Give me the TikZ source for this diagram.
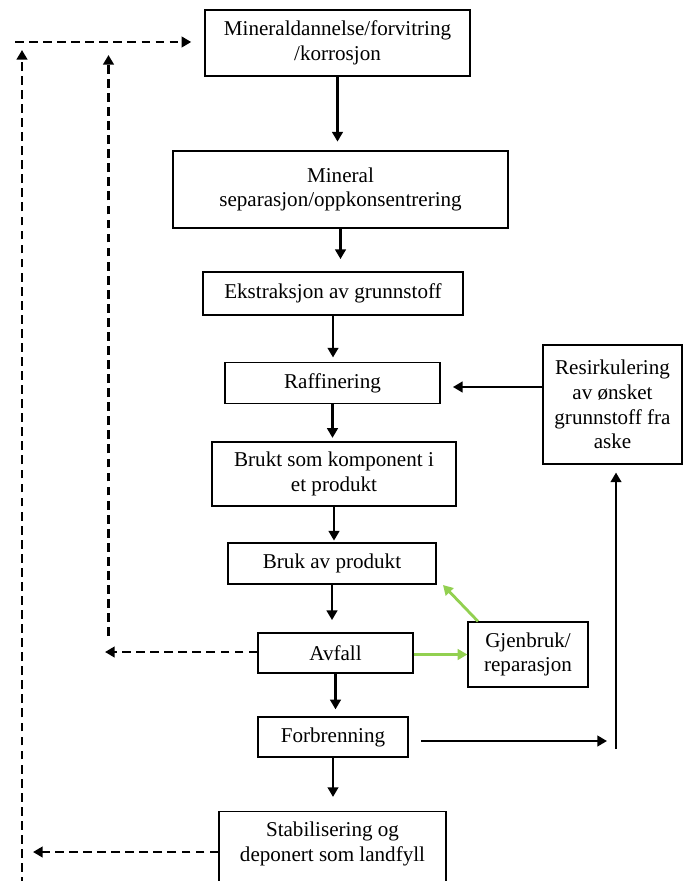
\documentclass[tikz,border=0pt]{standalone}
\usepackage{fontspec}
\setmainfont{Liberation Serif}
\usetikzlibrary{arrows.meta}
\definecolor{grn}{RGB}{146,208,80}
\tikzset{
  box/.style={draw, line width=0.7pt, align=center, inner sep=0pt, font=\fontsize{12}{14}\selectfont},
  arr/.style={line width=1.6pt, -{Triangle[length=5.5pt,width=6pt]}},
  darr/.style={arr, dash pattern=on 5pt off 3pt},
  garr/.style={arr, draw=grn},
}
\begin{document}
\begin{tikzpicture}[x=0.02cm,y=-0.02cm]
\path[use as bounding box] (0,0) rectangle (683,881);
\clip (0,0) rectangle (683,881);
\node[box, minimum width=5.30cm, minimum height=1.32cm] (mineral) at (337.5,43) {Mineraldannelse/forvitring\\/korrosjon};
\node[box, minimum width=6.70cm, minimum height=1.54cm] (separasjon) at (340.5,189.5) {Mineral\\separasjon/oppkonsentrering};
\node[box, minimum width=5.20cm, minimum height=0.86cm] (ekstraksjon) at (333,293.5) {Ekstraksjon av grunnstoff};
\node[box, minimum width=4.30cm, minimum height=0.82cm] (raffinering) at (332.5,383) {Raffinering};
\node[box, minimum width=2.78cm, minimum height=2.38cm] (resirk) at (612.5,404.5) {Resirkulering\\av ønsket\\grunnstoff fra\\aske};
\node[box, minimum width=4.88cm, minimum height=1.28cm] (komponent) at (334,474) {Brukt som komponent i\\et produkt};
\node[box, minimum width=4.16cm, minimum height=0.82cm] (produkt) at (332,563.5) {Bruk av produkt};
\node[box, minimum width=3.10cm, minimum height=0.80cm] (avfall) at (335.5,653) {Avfall};
\node[box, minimum width=2.40cm, minimum height=1.30cm] (gjenbruk) at (528,654.5) {Gjenbruk/\\reparasjon};
\node[box, minimum width=3.00cm, minimum height=0.80cm] (forbrenning) at (333,737) {Forbrenning};
\node[box, minimum width=4.54cm, inner ysep=6pt, text depth=1.4cm, anchor=north] (landfyll) at (332.5,811) {Stabilisering og\\deponert som landfyll};

\draw[arr, shorten >=5pt] (mineral.south) -- (separasjon.north -| mineral.south);
\draw[arr, shorten >=7pt] (separasjon.south) -- (ekstraksjon.north -| separasjon.south);
\draw[arr, shorten >=2.5pt] (ekstraksjon.south) -- (raffinering.north -| ekstraksjon.south);
\draw[arr, shorten >=2pt] (raffinering.south) -- (komponent.north -| raffinering.south);
\draw[arr, shorten >=1pt] (komponent.south) -- (produkt.north -| komponent.south);
\draw[arr, shorten >=7pt] (produkt.south) -- (avfall.north -| produkt.south);
\draw[arr, shorten >=4pt] (avfall.south) -- (forbrenning.north -| avfall.south);
\draw[arr, shorten >=8pt] (forbrenning.south) -- (landfyll.north -| forbrenning.south);

\coordinate (r1) at (0,387);
\draw[arr, shorten >=7pt] (resirk.west |- r1) -- (raffinering.east |- r1);
\coordinate (f1) at (421,741);
\coordinate (f2) at (607,741);
\draw[arr] (f1) -- (f2);
\coordinate (v1) at (616,749);
\draw[arr, shorten >=4.5pt] (v1) -- (resirk.south -| v1);

\draw[garr] (avfall.east |- gjenbruk.west) -- (gjenbruk.west);
\coordinate (g1) at (478,0);
\coordinate (g2) at (443,585);
\draw[garr] (gjenbruk.north -| g1) -- (g2);

\coordinate (d1) at (15,42);
\draw[darr, shorten >=7.5pt] (d1) -- (mineral.west |- d1);
\coordinate (d3) at (22,900);
\coordinate (d4) at (22,50);
\draw[darr] (d3) -- (d4);
\coordinate (d5) at (108.5,636);
\coordinate (d6) at (108.5,55);
\draw[darr] (d5) -- (d6);
\coordinate (d7) at (105,652);
\draw[darr] (avfall.west |- d7) -- (d7);
\coordinate (d8) at (33,852);
\draw[darr] (landfyll.west |- d8) -- (d8);
\end{tikzpicture}
\end{document}
